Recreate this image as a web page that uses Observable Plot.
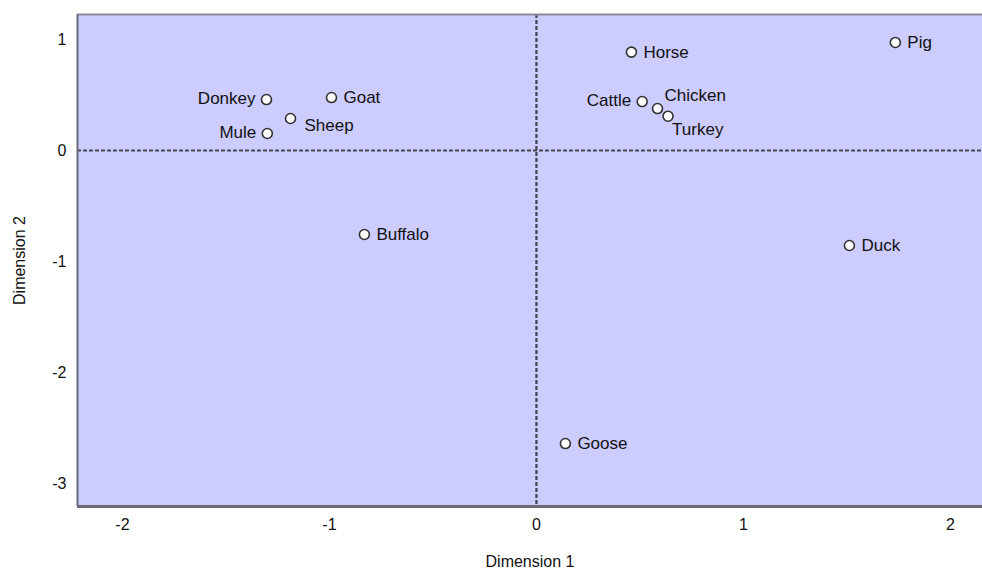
<!DOCTYPE html>
<html>
<head>
<meta charset="utf-8">
<script src="https://cdn.jsdelivr.net/npm/d3@7"></script>
<script src="https://cdn.jsdelivr.net/npm/@observablehq/plot@0.6"></script>
<style>
  html, body { margin: 0; padding: 0; background: #fff; }
  #chart svg { display: block; }
</style>
</head>
<body>
<div id="chart"></div>
<script>
const names = ["Donkey", "Goat", "Sheep", "Mule", "Horse", "Pig", "Cattle", "Chicken", "Turkey", "Buffalo", "Duck", "Goose"];
const dim1 = [-1.304, -0.990, -1.188, -1.300, 0.459, 1.734, 0.511, 0.585, 0.636, -0.831, 1.512, 0.140];
const dim2 = [0.459, 0.477, 0.288, 0.153, 0.886, 0.973, 0.441, 0.378, 0.309, -0.757, -0.856, -2.640];
const xTicks = [-2, -1, 0, 1, 2];
const yTicks = [1, 0, -1, -2, -3];
const xDomain = [-2.217, 2.155];
const yDomain = [-3.207, 1.225];

const data = names.map((name, i) => ({name, x: dim1[i], y: dim2[i]}));

const rightLabels = ["Goat", "Horse", "Pig", "Buffalo", "Duck", "Goose"];
const leftLabels = ["Donkey", "Mule", "Cattle"];

const font = "'Liberation Sans', Arial, sans-serif";

const chart = Plot.plot({
  width: 982,
  height: 571,
  marginLeft: 77,
  marginRight: 0,
  marginTop: 14,
  marginBottom: 65,
  style: {fontFamily: font, fontSize: "16px", color: "#111", background: "#fff", overflow: "hidden"},
  x: {domain: xDomain, ticks: xTicks},
  y: {domain: yDomain, ticks: yTicks},
  marks: [
    Plot.frame({fill: "#ccccff", stroke: null}),
    Plot.ruleY([0], {stroke: "#44444e", strokeWidth: 2.2, strokeDasharray: "4,2"}),
    Plot.ruleX([0], {stroke: "#44444e", strokeWidth: 2.2, strokeDasharray: "4,2"}),
    Plot.ruleY([yDomain[1]], {stroke: "#8a8a96", strokeWidth: 2}),
    Plot.ruleY([yDomain[0]], {stroke: "#6a6a78", strokeWidth: 3}),
    Plot.ruleX([xDomain[0]], {stroke: "#6a6a78", strokeWidth: 2}),
    Plot.axisX({ticks: xTicks, tickSize: 0, tickPadding: 12, tickFormat: d => String(d),
      label: "Dimension 1", labelAnchor: "center", labelOffset: 60, labelArrow: "none", fontSize: 16}),
    Plot.axisY({ticks: yTicks, tickSize: 0, tickPadding: 11, tickFormat: d => String(d),
      label: "Dimension 2", labelAnchor: "center", labelOffset: 64, labelArrow: "none", fontSize: 16}),
    Plot.dot(data, {x: "x", y: "y", r: 5, fill: "#fff", stroke: "#333", strokeWidth: 1.6}),
    Plot.text(data, {filter: d => rightLabels.includes(d.name), x: "x", y: "y", text: "name", textAnchor: "start", dx: 12, fill: "#111", fontSize: 17}),
    Plot.text(data, {filter: d => leftLabels.includes(d.name), x: "x", y: "y", text: "name", textAnchor: "end", dx: -11, dy: -1, fill: "#111", fontSize: 17}),
    Plot.text(data, {filter: d => d.name === "Sheep", x: "x", y: "y", text: "name", textAnchor: "start", dx: 14, dy: 7, fill: "#111", fontSize: 17}),
    Plot.text(data, {filter: d => d.name === "Chicken", x: "x", y: "y", text: "name", textAnchor: "start", dx: 7, dy: -13, fill: "#111", fontSize: 17}),
    Plot.text(data, {filter: d => d.name === "Turkey", x: "x", y: "y", text: "name", textAnchor: "start", dx: 4, dy: 13, fill: "#111", fontSize: 17})
  ]
});
document.getElementById("chart").append(chart);
</script>
</body>
</html>
